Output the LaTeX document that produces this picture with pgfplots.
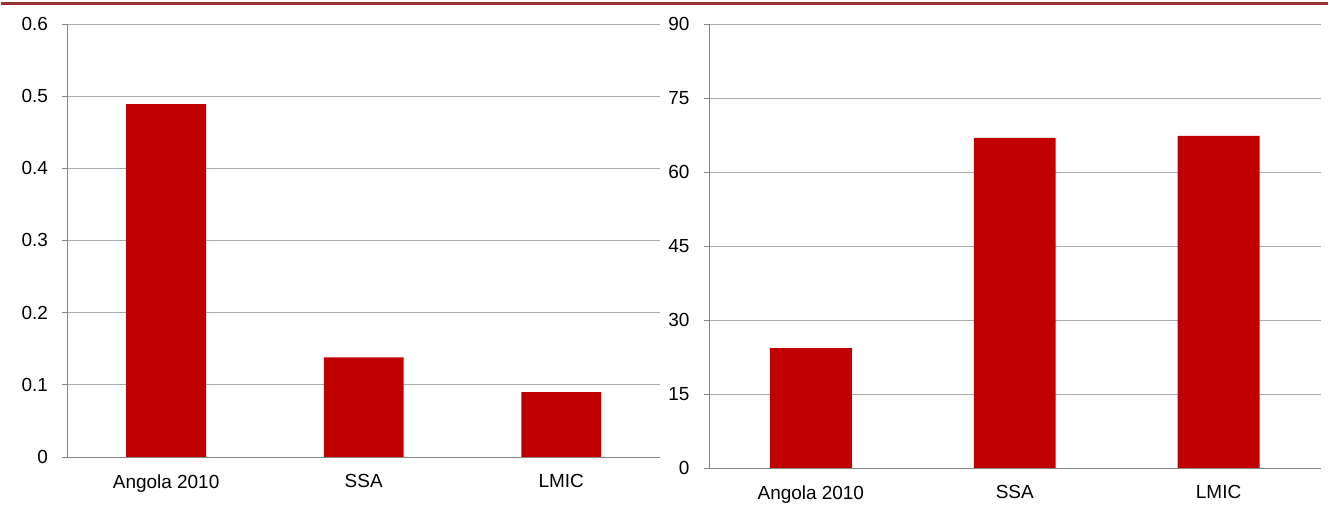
\documentclass[border=0pt]{standalone}
\usepackage{fontspec}
\setmainfont{Liberation Sans}
\usepackage{pgfplots}
\pgfplotsset{compat=1.18}
\definecolor{barred}{RGB}{192,0,0}
\definecolor{topline}{RGB}{150,52,50}
\definecolor{gridgray}{RGB}{170,170,170}
\definecolor{axisgray}{RGB}{134,134,134}

\pgfplotsset{
  panel/.style={
    scale only axis,
    anchor=south west,
    ybar,
    xmin=-0.5,xmax=2.5,
    ymin=0,
    axis x line*=bottom,
    axis y line*=left,
    axis line style={draw=axisgray,line width=0.8pt},
    xtick={0,1,2},
    xticklabels={Angola 2010,SSA,LMIC},
    x tick style={draw=none},
    extra x ticks={-0.5,0.5,1.5,2.5},
    extra x tick labels={},
    extra x tick style={tick style={draw=axisgray,line width=0.8pt},tick align=outside,major tick length=5pt,grid=none},
    y tick style={draw=axisgray,line width=0.8pt},
    tick align=outside,
    major tick length=5pt,
    ymajorgrids,
    grid style={draw=gridgray,line width=0.8pt},
    tick label style={font=\fontsize{19}{22}\selectfont},
    yticklabel style={xshift=-11pt},
    xticklabel style={yshift=-9pt},
    /pgf/number format/assume math mode=true,
    clip=false,
  }
}

\begin{document}
\begin{tikzpicture}
\path[fill=white] (0pt,0pt) rectangle (1329pt,509pt);
\draw[topline,line width=3pt] (0pt,505pt) -- (1329pt,505pt);

\begin{axis}[panel,
  at={(66pt,51pt)},
  width=594pt,height=434pt,
  ymax=0.6,
  ytick={0,0.1,...,0.6},
  yticklabel style={/pgf/number format/fixed,/pgf/number format/precision=1},
  bar width=80pt]
\addplot[fill=barred,draw=none] coordinates {(0,0.489) (1,0.138) (2,0.090)};
\end{axis}

\begin{axis}[panel,
  at={(709pt,40pt)},
  width=613pt,height=445pt,
  ymax=90,
  ytick={0,15,...,90},
  bar width=82pt]
\addplot[fill=barred,draw=none] coordinates {(0,24.3) (1,66.9) (2,67.3)};
\end{axis}
\end{tikzpicture}
\end{document}
